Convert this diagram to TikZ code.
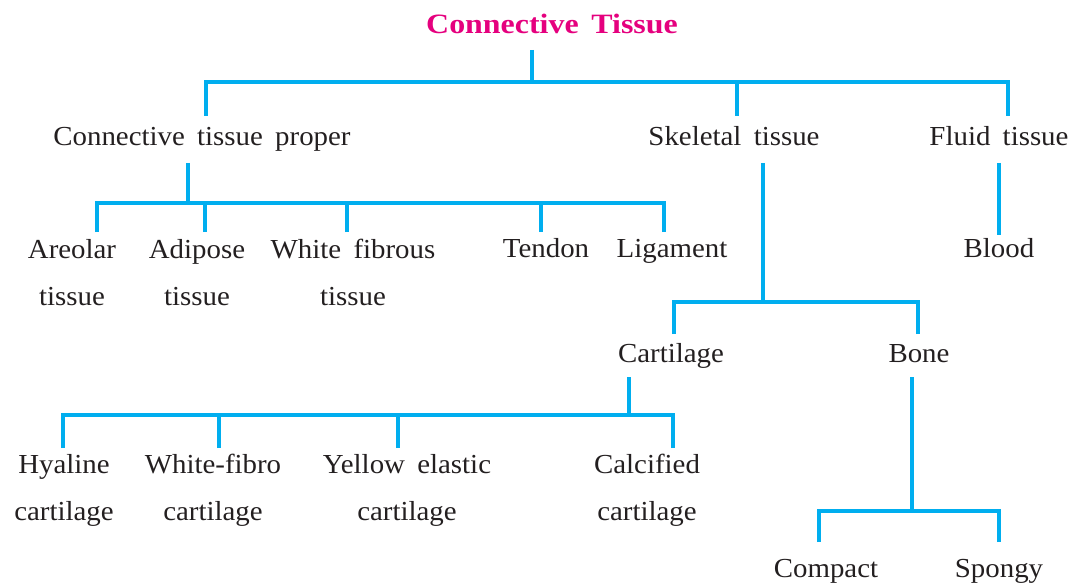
\documentclass[tikz,border=0pt]{standalone}
\usepackage{fontspec}
\setmainfont{Liberation Serif}[FakeStretch=1.05, WordSpace=1.7]
\newfontfamily\headfont{Liberation Serif}[FakeStretch=1.14, WordSpace=1.6]
\usepackage{xcolor}
\usepackage{tikz}
\usetikzlibrary{positioning, calc}
\definecolor{linecyan}{HTML}{00AEEF}
\definecolor{headpink}{HTML}{E5007E}
\definecolor{inkgrey}{HTML}{231F20}

\tikzset{
    term/.style={text=inkgrey, font=\fontsize{27.5}{47}\selectfont, align=center,
                 inner sep=0pt, text height=19pt, text depth=6pt, outer ysep=#1, anchor=base},
    term/.default=8pt,
    twoline/.style={term=#1, text height=66pt},
    link/.style={draw=linecyan, line width=3.2pt}
}

\begin{document}
\begin{tikzpicture}[x=1pt, y=-1pt]
    \useasboundingbox (0,0) rectangle (1069,583);

    \node[term=10pt, text=headpink, font=\headfont\bfseries\fontsize{28}{34}\selectfont]
        (title) at (552,34) {Connective Tissue};

    \node[term=11pt] (ctp) at (202,146) {Connective tissue proper};
    \node[term=11pt] (sk) at (734,146) {Skeletal tissue};
    \node[term=11pt] (fl) at (999,146) {Fluid tissue};

    \node[twoline=7pt] (ar) at (72,305) {Areolar\\tissue};
    \node[twoline=7pt] (ad) at (197,305) {Adipose\\tissue};
    \node[twoline=7pt] (wf) at (353,305) {White fibrous\\tissue};
    \node[term=7pt] (te) at (546,258) {Tendon};
    \node[term=7pt] (li) at (672,258) {Ligament};
    \node[term=4pt] (bl) at (999,258) {Blood};

    \node[term=9pt] (ca) at (671,362) {Cartilage};
    \node[term=9pt] (bo) at (919,362) {Bone};

    \node[twoline=6pt] (hy) at (64,520) {Hyaline\\cartilage};
    \node[twoline=6pt] (wfc) at (213,520) {White-fibro\\cartilage};
    \node[twoline=6pt] (ye) at (407,520) {Yellow elastic\\cartilage};
    \node[twoline=6pt] (cc) at (647,520) {Calcified\\cartilage};

    \node[term=16pt] (co) at (826,577) {Compact};
    \node[term=16pt] (sp) at (999,577) {Spongy};

    % joints of the brackets
    \coordinate (tj) at (532,82);
    \coordinate (cj) at (188,203);
    \coordinate (sj) at (763,302);
    \coordinate (kj) at (629,415);
    \coordinate (bj) at (912,511);

    \draw[link] (tj |- title.south) -- (tj);
    \foreach \n/\dx in {ctp/4pt, sk/3pt, fl/9pt}
        \draw[link] ([xshift=\dx]\n.north) |- (tj);

    \draw[link] (cj |- ctp.south) -- (cj);
    \foreach \n/\dx in {ar/25pt, ad/8pt, wf/-6pt, te/-5pt, li/-8pt}
        \draw[link] ([xshift=\dx]\n.north) |- (cj);

    \draw[link] (fl.south) -- (bl.north);

    \draw[link] (sj |- sk.south) -- (sj);
    \foreach \n/\dx in {ca/3pt, bo/-1pt}
        \draw[link] ([xshift=\dx]\n.north) |- (sj);

    \draw[link] (kj |- ca.south) -- (kj);
    \foreach \n/\dx in {hy/-1pt, wfc/6pt, ye/-9pt, cc/26pt}
        \draw[link] ([xshift=\dx]\n.north) |- (kj);

    \draw[link] (bj |- bo.south) -- (bj);
    \foreach \n/\dx in {co/-7pt, sp/0pt}
        \draw[link] ([xshift=\dx]\n.north) |- (bj);
\end{tikzpicture}
\end{document}
